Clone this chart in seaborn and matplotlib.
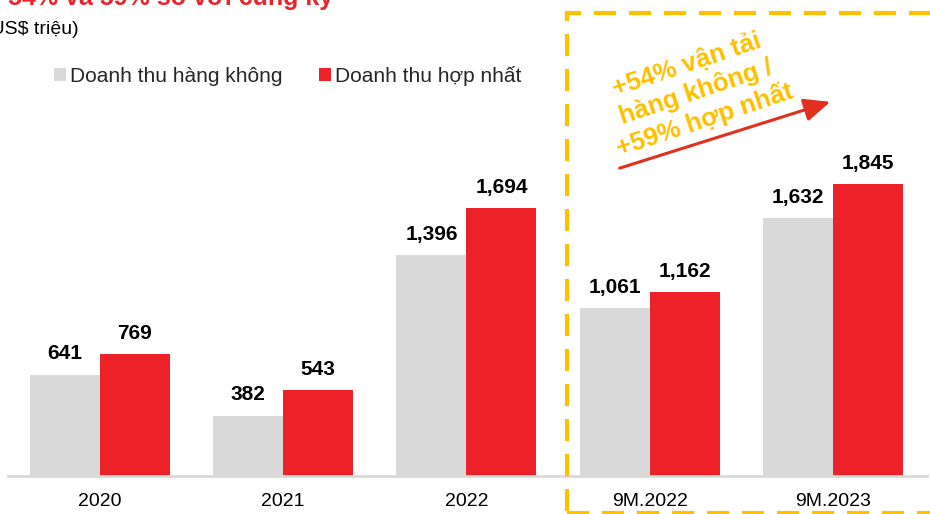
import pandas as pd
import seaborn as sns
import matplotlib.pyplot as plt

categories = ["2020", "2021", "2022", "9M.2022", "9M.2023"]
aviation_rev = [641, 382, 1396, 1061, 1632]
consolidated_rev = [769, 543, 1694, 1162, 1845]
series_names = ["Doanh thu hàng không", "Doanh thu hợp nhất"]
title_text = "Doanh thu tăng 54% và 59% so với cùng kỳ"
unit_text = "(US$ triệu)"
note_text = "+54% vận tải\nhàng không /\n+59% hợp nhất"

GRAY = "#D9D9D9"
RED = "#ED2229"
GOLD = "#FFC000"

W, H = 930, 514


def fx(px):
    return px / W


def fy(py):
    # pixel measured from the top
    return (H - py) / H


df = pd.DataFrame({
    "cat": categories * 2,
    "value": aviation_rev + consolidated_rev,
    "series": [series_names[0]] * len(categories) + [series_names[1]] * len(categories),
})

sns.set_theme(style="white")
plt.rcParams["font.family"] = ["Liberation Sans", "DejaVu Sans"]

fig = plt.figure(figsize=(W / 100, H / 100), dpi=100)
ax = fig.add_axes([fx(8), fy(476), fx(919), 456 / H])

sns.barplot(data=df, x="cat", y="value", hue="series", order=categories,
            hue_order=series_names, palette=[GRAY, RED], width=0.764,
            saturation=1, linewidth=0, ax=ax)

ax.set_xlim(-0.502, 4.513)
ax.set_ylim(0, 456 / 0.15827)
ax.set_xlabel("")
ax.set_ylabel("")
ax.set_yticks([])
for side in ["top", "left", "right"]:
    ax.spines[side].set_visible(False)
ax.spines["bottom"].set_color(GRAY)
ax.spines["bottom"].set_linewidth(2)
ax.tick_params(axis="x", length=0, pad=12, labelsize=14, labelcolor="black")

for cont in ax.containers:
    ax.bar_label(cont, fmt="{:,.0f}", padding=8, fontsize=15,
                 fontweight="bold", color="black")

sns.move_legend(ax, loc="center left", bbox_to_anchor=(fx(54), fy(76)),
                bbox_transform=fig.transFigure, ncol=2, frameon=False,
                title=None, fontsize=15, handlelength=0.58, handleheight=0.58,
                handletextpad=0.2, columnspacing=1.75, borderpad=0,
                borderaxespad=0)

# cut-off title and unit at the top-left
fig.text(fx(333), fy(5), title_text, ha="right", va="baseline",
         fontsize=18, fontweight="bold", color="#E8242A")
fig.text(fx(79), fy(29), unit_text, ha="right", va="center", fontsize=14,
         color="black")

# dashed highlight box around the 9M columns
box = plt.Rectangle((fx(567), fy(513)), 0.5, fy(13) - fy(513),
                    transform=fig.transFigure, fill=False, edgecolor=GOLD,
                    linewidth=3, linestyle=(0, (5.3, 3.1)), clip_on=False)
fig.patches.append(box)

fig.text(fx(696), fy(93), note_text, rotation=18.5, rotation_mode="anchor",
         ha="center", va="center", multialignment="center", fontsize=18.5,
         fontweight="bold", color=GOLD, linespacing=1.2)

fig.add_artist(plt.Annotation("", xy=(fx(833), fy(101)), xytext=(fx(617), fy(169)),
                              xycoords="figure fraction", textcoords="figure fraction",
                              arrowprops=dict(arrowstyle="-|>,head_length=0.8,head_width=0.35",
                                              color="#E0301E", lw=2.2,
                                              mutation_scale=20)))

fig.savefig("out.png", dpi=100)
